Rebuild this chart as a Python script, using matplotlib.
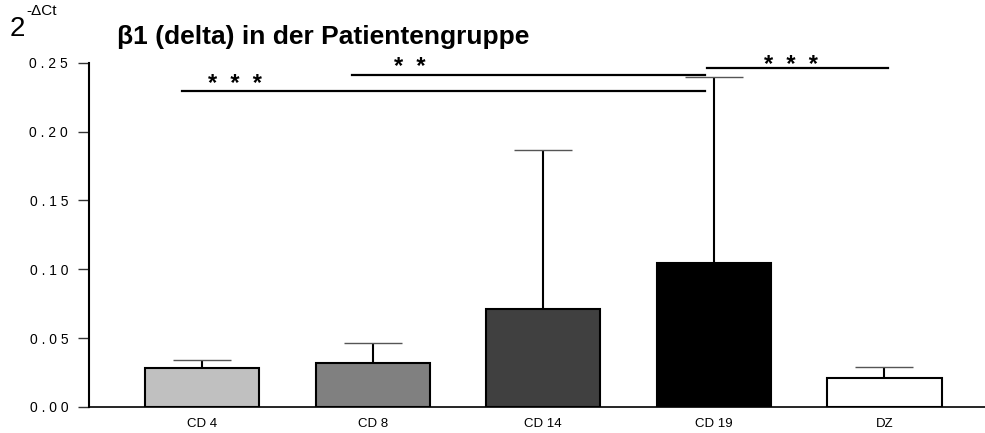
import matplotlib.pyplot as plt

plt.rcParams['font.family'] = ['Liberation Sans', 'DejaVu Sans']

# data
groups = ['CD 4', 'CD 8', 'CD 14', 'CD 19', 'DZ']
means = [0.0285, 0.0317, 0.0711, 0.1043, 0.0208]
errors = [0.0056, 0.0150, 0.1156, 0.1353, 0.0084]
colors = ['#c0c0c0', '#808080', '#404040', '#000000', '#ffffff']
ytick_values = [0.00, 0.05, 0.10, 0.15, 0.20, 0.25]
ytick_labels = ['0 . 0 0', '0 . 0 5', '0 . 1 0', '0 . 1 5', '0 . 2 0', '0 . 2 5']

# significance brackets: (x start, x end, y line, label, label x, label y)
brackets = [
    (-0.12, 2.95, 0.2293, '*  *  *', 0.19, 0.2340),
    (0.88, 2.95, 0.2412, '*  *', 1.22, 0.2465),
    (2.96, 4.02, 0.2459, '*  *  *', 3.455, 0.2480),
]

fig = plt.figure(figsize=(9.85, 4.33), dpi=100)
ax = fig.add_axes([89 / 985, 1 - 407 / 433, 1 - 89 / 985, (407 - 62.7) / 433])

x = list(range(len(groups)))

# upper error bars (line hidden behind the bar, cap on top)
ax.vlines(x, 0, [m + e for m, e in zip(means, errors)], color='black', lw=1.5, zorder=2)
ax.hlines([m + e for m, e in zip(means, errors)], [i - 0.17 for i in x], [i + 0.17 for i in x],
          color='#555555', lw=1.0, zorder=2)

ax.bar(x, means, width=0.67, color=colors, edgecolor='black', linewidth=1.5, zorder=3)

for x0, x1, yl, lab, xt, yt in brackets:
    ax.plot([x0, x1], [yl, yl], color='black', lw=1.6, clip_on=False, zorder=4)
    ax.text(xt, yt, lab, ha='center', va='center', fontsize=17, fontweight='bold')

ax.set_xlim(-0.663, 4.59)
ax.set_ylim(0, 0.25)
ax.set_xticks(x)
ax.set_xticklabels(groups, fontsize=9.5)
ax.tick_params(axis='x', length=0, pad=8)
ax.set_yticks(ytick_values)
ax.set_yticklabels(ytick_labels, fontsize=10)
ax.tick_params(axis='y', length=8, width=1.0, direction='out', pad=7, color='#333333')

ax.spines['top'].set_visible(False)
ax.spines['right'].set_visible(False)
ax.spines['left'].set_linewidth(1.5)
ax.spines['bottom'].set_linewidth(1.2)

# axis label and title
fig.text(10 / 985, 1 - 36 / 433, '2', fontsize=20, va='baseline', ha='left')
fig.text(26 / 985, 1 - 15 / 433, '-ΔCt', fontsize=11, va='baseline', ha='left')
fig.text(117 / 985, 1 - 44 / 433, 'β1 (delta) in der Patientengruppe', fontsize=19,
         fontweight='bold', va='baseline', ha='left')

fig.savefig('out.png', dpi=100)
